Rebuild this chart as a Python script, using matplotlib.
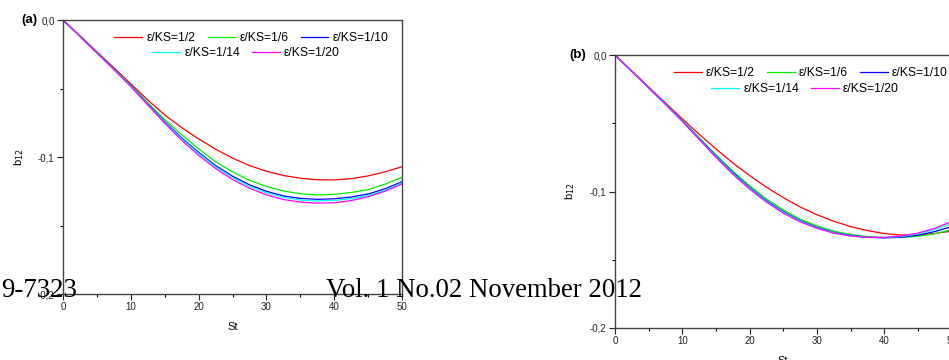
import numpy as np
import matplotlib
matplotlib.use("Agg")
import matplotlib.pyplot as plt
from matplotlib.lines import Line2D

plt.rcParams['font.family'] = ['Liberation Sans', 'DejaVu Sans']

# Strouhal number grid
st = [0, 2.5, 5, 7.5, 10, 12.5, 15, 17.5, 20, 22.5, 25,
      27.5, 30, 32.5, 35, 37.5, 40, 42.5, 45, 47.5, 50]

labels = ['ε/KS=1/2', 'ε/KS=1/6', 'ε/KS=1/10', 'ε/KS=1/14', 'ε/KS=1/20']
colors = ['#ff0000', '#00ee00', '#0000ff', '#00ffff', '#ff00ff']

# (a) b12 vs St
a_half = [0, -0.0115, -0.0232, -0.0348, -0.0466, -0.0584, -0.0693, -0.0785, -0.0868, -0.0942, -0.1008,
          -0.1062, -0.1104, -0.1135, -0.1155, -0.1166, -0.1167, -0.1158, -0.1138, -0.1108, -0.1071]
a_sixth = [0, -0.0118, -0.0237, -0.0356, -0.0476, -0.0605, -0.0727, -0.0837, -0.0940, -0.1034, -0.1108,
           -0.1170, -0.1215, -0.1248, -0.1268, -0.1277, -0.1273, -0.1259, -0.1238, -0.1198, -0.1148]
a_tenth = [0, -0.0119, -0.0238, -0.0358, -0.0480, -0.0612, -0.0742, -0.0860, -0.0966, -0.1062, -0.1140,
           -0.1203, -0.1250, -0.1284, -0.1302, -0.1309, -0.1305, -0.1292, -0.1270, -0.1232, -0.1180]
a_14 = [0, -0.0119, -0.0239, -0.0360, -0.0483, -0.0616, -0.0748, -0.0868, -0.0975, -0.1072, -0.1151,
        -0.1214, -0.1261, -0.1295, -0.1314, -0.1321, -0.1317, -0.1304, -0.1281, -0.1243, -0.1190]
a_20 = [0, -0.0120, -0.0240, -0.0362, -0.0486, -0.0620, -0.0754, -0.0878, -0.0988, -0.1084, -0.1164,
        -0.1228, -0.1276, -0.1310, -0.1329, -0.1337, -0.1334, -0.1318, -0.1290, -0.1250, -0.1197]

# (b) b12 vs St
b_half = [0, -0.0117, -0.0234, -0.0351, -0.0467, -0.0580, -0.0688, -0.0790, -0.0883, -0.0968, -0.1045,
          -0.1113, -0.1170, -0.1218, -0.1257, -0.1286, -0.1308, -0.1319, -0.1318, -0.1308, -0.1290]
b_sixth = [0, -0.0119, -0.0238, -0.0357, -0.0478, -0.0605, -0.0732, -0.0850, -0.0958, -0.1055, -0.1135,
           -0.1202, -0.1252, -0.1290, -0.1315, -0.1330, -0.1337, -0.1337, -0.1328, -0.1310, -0.1280]
b_tenth = [0, -0.0119, -0.0239, -0.0359, -0.0481, -0.0610, -0.0740, -0.0861, -0.0970, -0.1067, -0.1147,
           -0.1213, -0.1262, -0.1300, -0.1322, -0.1335, -0.1340, -0.1335, -0.1320, -0.1294, -0.1258]
b_14 = [0, -0.0120, -0.0239, -0.0360, -0.0483, -0.0614, -0.0745, -0.0867, -0.0976, -0.1072, -0.1152,
        -0.1217, -0.1266, -0.1303, -0.1325, -0.1336, -0.1338, -0.1330, -0.1311, -0.1280, -0.1235]
b_20 = [0, -0.0120, -0.0240, -0.0362, -0.0486, -0.0618, -0.0750, -0.0873, -0.0982, -0.1078, -0.1158,
        -0.1222, -0.1270, -0.1305, -0.1326, -0.1336, -0.1336, -0.1326, -0.1305, -0.1270, -0.1220]

yticks = [0.0, -0.1, -0.2]
ytick_labels = ['0,0', '-0,1', '-0,2']
xticks = [0, 10, 20, 30, 40, 50]

fig = plt.figure(figsize=(9.49, 3.6), dpi=100)
ax_a = fig.add_axes([0.0664, 0.1833, 0.3572, 0.7611])
ax_b = fig.add_axes([0.648, 0.0889, 0.3546, 0.7583])


def style(ax, series, leg1_pos, leg2_pos, tag, tag_pos):
    for y, c, lab in zip(series, colors, labels):
        ax.plot(st, y, color=c, lw=0.9, label=lab)
    ax.set_xlim(0, 50)
    ax.set_ylim(-0.2, 0)
    ax.set_xticks(xticks)
    ax.set_xticks([5, 15, 25, 35, 45], minor=True)
    ax.set_yticks(yticks)
    ax.set_yticklabels(ytick_labels)
    ax.set_yticks([-0.05, -0.15], minor=True)
    ax.tick_params(which='major', direction='out', length=4, width=0.8,
                   labelsize=7, pad=2, colors='#222222')
    ax.tick_params(which='minor', direction='out', length=2.5, width=0.8)
    for sp in ax.spines.values():
        sp.set_linewidth(1.0)
        sp.set_color('#444444')
    ax.set_xlabel('St', fontsize=8, labelpad=7)
    ax.set_ylabel('b$_{12}$', fontsize=8, labelpad=9)

    handles = [Line2D([], [], color=c, lw=0.9) for c in colors]
    kw = dict(frameon=False, fontsize=8.7, handlelength=2.3, handletextpad=0.35,
              columnspacing=1.0, borderaxespad=0, borderpad=0)
    leg1 = ax.legend(handles[:3], labels[:3], ncol=3, loc='center',
                     bbox_to_anchor=leg1_pos, **kw)
    ax.add_artist(leg1)
    ax.legend(handles[3:], labels[3:], ncol=2, loc='center',
              bbox_to_anchor=leg2_pos, **kw)
    fig.text(tag_pos[0], tag_pos[1], tag, fontsize=9.5, fontweight='bold',
             ha='left', va='center')


style(ax_a, [a_half, a_sixth, a_tenth, a_14, a_20],
      (0.556, 0.934), (0.54, 0.88), '(a)', (21 / 949, 1 - 20 / 360))
style(ax_b, [b_half, b_sixth, b_tenth, b_14, b_20],
      (0.582, 0.934), (0.565, 0.875), '(b)', (569 / 949, 1 - 55 / 360))

# page header text running across the figure
fig.text(1 / 949, 1 - 297 / 360, '9-7323', family='Liberation Serif',
         fontsize=19.3, ha='left', va='baseline')
fig.text(326 / 949, 1 - 297 / 360, 'Vol. 1 No.02 November 2012',
         family='Liberation Serif', fontsize=19.3, ha='left', va='baseline')

fig.savefig('out.png', dpi=100)
